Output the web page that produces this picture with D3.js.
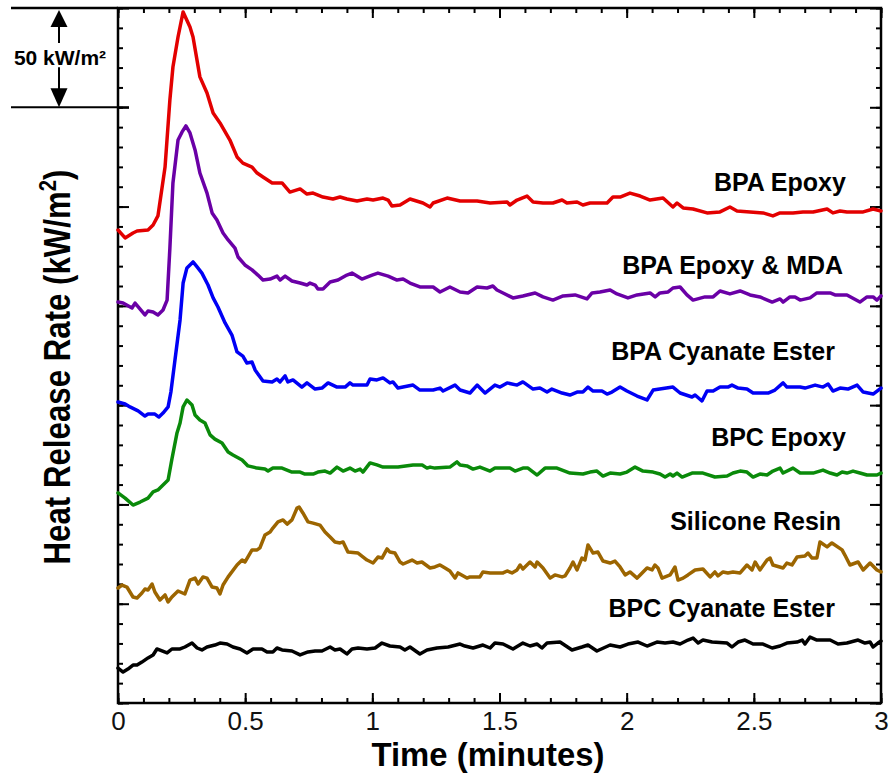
<!DOCTYPE html>
<html>
<head>
<meta charset="utf-8">
<script src="https://cdn.jsdelivr.net/npm/d3@7"></script>
<style>
  body { margin: 0; background: #fff; }
  text { font-family: "Liberation Sans", Arial, Helvetica, sans-serif; }
</style>
</head>
<body>
<script>
// series: [time (min), offset heat release rate (kW/m2)]
const seriesNames = ["BPA Epoxy", "BPA Epoxy & MDA", "BPA Cyanate Ester", "BPC Epoxy", "Silicone Resin", "BPC Cyanate Ester"];

const bpaEpoxy = [[0,238.2],[.028,234.2],[.059,236.7],[.075,237.7],[.118,238.2],[.138,240.7],[.157,245.3],[.185,269.9],[.204,303.7],[.216,320.3],[.236,335.4],[.256,348],[.283,340.4],[.295,335.4],[.322,315.3],[.35,307.2],[.374,297.1],[.401,292.1],[.44,283.5],[.468,275],[.491,271.9],[.527,269.9],[.547,266.9],[.57,264.9],[.606,261.9],[.645,261.9],[.676,257.3],[.716,258.9],[.743,256.3],[.767,256.8],[.806,254.8],[.845,253.8],[.873,254.8],[.9,253.8],[.94,252.8],[.979,253.8],[1.003,253.3],[1.042,254.3],[1.062,253.3],[1.077,250.3],[1.109,250.8],[1.148,253.8],[1.199,251.8],[1.227,249.8],[1.239,251.8],[1.294,254.3],[1.345,252.8],[1.412,252.8],[1.463,251.8],[1.53,252.3],[1.541,250.8],[1.569,253.3],[1.608,255.3],[1.632,252.3],[1.671,251.8],[1.71,251.8],[1.746,253.3],[1.765,251.8],[1.805,252.3],[1.828,250.8],[1.856,251.8],[1.923,251.8],[1.946,254.8],[1.974,254.8],[2.013,256.8],[2.053,255.3],[2.092,253.3],[2.143,254.3],[2.182,249.8],[2.198,251.8],[2.222,249.3],[2.261,248.8],[2.316,246.8],[2.367,247.3],[2.406,249.8],[2.434,247.8],[2.485,247.3],[2.536,246.8],[2.575,245.3],[2.603,246.8],[2.654,246.8],[2.693,247.3],[2.733,247.3],[2.788,248.8],[2.811,246.8],[2.839,247.8],[2.866,247.3],[2.93,247.3],[2.969,248.8],[3,247.8]];

const bpaEpoxyMda = [[0,201.9],[.02,201.4],[.055,198.9],[.067,201.4],[.106,195.4],[.118,197.4],[.138,196.9],[.157,195.4],[.177,197.9],[.193,202.9],[.204,229.1],[.216,261.9],[.236,283.5],[.252,287.6],[.267,290.6],[.283,287.1],[.303,278.5],[.322,266.9],[.35,256.8],[.37,246.8],[.389,243.2],[.413,236.7],[.433,233.2],[.46,229.1],[.472,224.6],[.499,220.6],[.527,218.1],[.55,215.5],[.57,213],[.598,213.5],[.625,215],[.637,213],[.657,215],[.684,212.5],[.716,211.5],[.743,210.5],[.755,211.5],[.775,210.5],[.786,208.5],[.806,208.5],[.834,212],[.865,213],[.9,215.5],[.92,216.5],[.959,213.5],[.999,215.5],[1.022,216.5],[1.062,215],[1.097,213],[1.121,213.5],[1.148,211.5],[1.187,209.5],[1.239,209.5],[1.266,207],[1.305,209.5],[1.345,207],[1.376,206.5],[1.412,209.5],[1.451,209],[1.474,210],[1.49,208],[1.514,206.5],[1.553,204],[1.592,205],[1.64,206.5],[1.671,204.5],[1.71,202.9],[1.75,205],[1.797,205.5],[1.844,203.5],[1.864,206.5],[1.895,207],[1.935,208],[1.962,206],[2.005,204],[2.041,205.5],[2.092,206.5],[2.112,204.5],[2.131,206.5],[2.163,207],[2.182,209],[2.21,209.5],[2.237,205.5],[2.261,202.9],[2.308,204.5],[2.34,204.5],[2.367,207.5],[2.406,206],[2.446,207.5],[2.485,205.5],[2.524,204.5],[2.572,201.9],[2.603,203.5],[2.615,201.9],[2.642,204.5],[2.662,204.5],[2.682,202.9],[2.721,204],[2.748,206.5],[2.8,206.5],[2.819,205.5],[2.866,205.5],[2.917,201.9],[2.945,204.5],[2.969,204.5],[2.984,202.9],[3,205]];

const bpaCyanate = [[0,151.6],[.028,150.6],[.047,149.1],[.079,147.1],[.106,144.5],[.118,145.5],[.145,145.5],[.161,144],[.177,146],[.197,149.1],[.208,156.6],[.224,172.7],[.244,192.9],[.256,211.5],[.271,219.1],[.295,222.1],[.311,219.6],[.33,216.5],[.354,210.5],[.374,204],[.393,199.4],[.421,191.4],[.448,185.3],[.468,176.8],[.491,174.7],[.507,171.2],[.527,171.7],[.539,167.7],[.57,162.2],[.606,161.7],[.625,163.2],[.637,161.7],[.657,164.7],[.668,161.7],[.688,162.7],[.723,159.1],[.743,161.2],[.775,158.1],[.802,158.6],[.826,161.2],[.861,159.1],[.893,159.1],[.912,161.2],[.924,160.1],[.979,160.1],[.991,163.2],[1.018,162.7],[1.042,163.7],[1.069,161.2],[1.081,161.7],[1.101,158.6],[1.16,160.1],[1.187,157.6],[1.239,157.6],[1.266,158.6],[1.278,157.1],[1.325,160.1],[1.345,157.6],[1.384,156.1],[1.412,160.1],[1.443,156.1],[1.482,160.1],[1.502,159.1],[1.53,161.2],[1.569,160.1],[1.592,161.7],[1.632,158.1],[1.659,158.6],[1.687,156.6],[1.706,158.1],[1.746,156.1],[1.777,155.1],[1.805,156.6],[1.828,156.6],[1.848,159.1],[1.868,157.1],[1.903,157.1],[1.923,155.6],[1.942,156.6],[1.974,159.1],[2.001,157.1],[2.041,154.6],[2.08,152.6],[2.104,157.6],[2.182,159.1],[2.21,156.1],[2.257,154.1],[2.269,155.1],[2.296,152.1],[2.316,157.1],[2.34,157.1],[2.367,159.1],[2.398,159.1],[2.414,160.1],[2.438,158.6],[2.473,158.1],[2.497,156.1],[2.556,156.1],[2.583,157.6],[2.615,161.2],[2.63,159.1],[2.682,159.1],[2.701,158.6],[2.741,160.1],[2.772,159.1],[2.792,160.6],[2.811,157.1],[2.839,158.6],[2.87,158.1],[2.906,160.1],[2.93,156.6],[2.969,155.6],[3,158.6]];

const bpcEpoxy = [[0,105.8],[.028,103.2],[.059,99.7],[.087,101.2],[.118,103.2],[.138,106.3],[.157,107.3],[.177,109.8],[.197,112.3],[.212,122.9],[.232,136],[.244,141],[.256,149.1],[.271,152.6],[.291,150.1],[.303,145],[.322,142.5],[.342,141],[.362,135],[.381,132.9],[.409,130.9],[.433,126.4],[.452,124.9],[.488,122.4],[.511,119.4],[.547,118.3],[.578,117.8],[.59,116.8],[.609,118.3],[.645,118.3],[.684,116.3],[.716,116.3],[.735,115.3],[.767,115.3],[.786,116.3],[.814,116.8],[.834,115.8],[.861,118.8],[.885,116.8],[.912,118.3],[.932,116.8],[.952,117.8],[.963,116.3],[.991,120.9],[1.018,119.9],[1.042,118.8],[1.101,118.8],[1.16,119.9],[1.196,119.9],[1.215,118.3],[1.227,118.8],[1.246,118.3],[1.305,118.8],[1.333,121.4],[1.345,119.9],[1.372,119.4],[1.396,117.8],[1.423,118.8],[1.463,116.8],[1.482,118.3],[1.541,118.3],[1.561,116.8],[1.592,118.3],[1.612,118.3],[1.648,114.8],[1.679,118.3],[1.726,118.3],[1.777,115.8],[1.828,115.3],[1.856,116.3],[1.883,116.8],[1.907,114.3],[1.935,115.8],[1.974,115.3],[2.001,116.3],[2.033,118.8],[2.064,116.8],[2.104,116.3],[2.131,115.3],[2.151,113.8],[2.171,115.3],[2.182,114.3],[2.198,115.8],[2.218,113.8],[2.257,115.8],[2.3,115.8],[2.347,113.8],[2.395,114.3],[2.418,115.8],[2.446,116.8],[2.473,116.3],[2.497,113.8],[2.524,115.3],[2.552,114.8],[2.575,116.8],[2.603,118.3],[2.615,115.8],[2.654,118.3],[2.682,115.8],[2.733,115.8],[2.772,117.3],[2.8,115.8],[2.827,114.8],[2.847,116.3],[2.866,115.8],[2.89,116.8],[2.917,115.8],[2.945,114.8],[2.984,114.8],[3,115.8]];

const siliconeResin = [[0,57.9],[.016,59.4],[.035,58.4],[.059,53.4],[.075,52.9],[.094,55.4],[.106,57.4],[.118,56.9],[.134,59.9],[.145,55.9],[.165,51.9],[.185,54.4],[.197,50.9],[.212,53.4],[.236,56.4],[.263,54.9],[.283,61.9],[.303,62.9],[.315,59.9],[.334,63.5],[.35,62.9],[.37,58.4],[.389,57.9],[.401,54.9],[.413,59.4],[.433,63.5],[.468,69.5],[.488,72],[.499,71],[.527,77.1],[.547,77.1],[.558,78.1],[.578,84.6],[.598,86.1],[.609,88.1],[.629,91.2],[.649,92.2],[.665,90.1],[.684,92.2],[.704,98.2],[.712,98.7],[.727,95.7],[.747,91.2],[.767,90.6],[.794,89.6],[.814,86.1],[.834,83.6],[.853,81.1],[.873,80.6],[.885,81.1],[.904,76],[.944,75.5],[.979,72],[1.003,70.5],[1.022,73.5],[1.038,73],[1.058,77.6],[1.069,76],[1.089,75.5],[1.109,71],[1.121,70],[1.156,72],[1.176,70.5],[1.195,71],[1.227,68],[1.246,68.5],[1.266,69.5],[1.286,68],[1.305,66.5],[1.325,62.9],[1.337,65.5],[1.372,62.9],[1.384,63.5],[1.423,63.5],[1.435,66],[1.463,65.5],[1.514,65.5],[1.53,66.5],[1.549,65.5],[1.569,67],[1.581,69.5],[1.592,67.5],[1.62,71],[1.64,68.5],[1.648,71],[1.671,68],[1.699,62.9],[1.718,64.5],[1.746,63.5],[1.758,64],[1.777,68],[1.789,71],[1.805,67],[1.824,73],[1.836,72],[1.848,79.6],[1.868,75.5],[1.887,76],[1.907,71.5],[1.935,70.5],[1.954,71.5],[1.974,68.5],[1.994,64.5],[2.013,66],[2.041,62.9],[2.053,64.5],[2.08,68],[2.1,67],[2.111,69.5],[2.123,68],[2.139,62.9],[2.171,64.5],[2.19,68.5],[2.202,61.9],[2.222,62.9],[2.241,64.5],[2.269,67],[2.3,67.5],[2.328,63.5],[2.347,66],[2.359,64],[2.379,66],[2.398,65.5],[2.418,66],[2.446,65.5],[2.473,69.5],[2.493,67],[2.505,71],[2.524,67],[2.552,72],[2.564,73],[2.575,69.5],[2.615,68],[2.63,70.5],[2.65,69.5],[2.67,73.5],[2.701,74],[2.713,75.5],[2.729,73],[2.748,73],[2.76,81.1],[2.788,78.6],[2.807,80.6],[2.847,77.1],[2.858,74.5],[2.878,69.5],[2.91,71],[2.93,67],[2.957,70.5],[2.984,67],[3,66]];

const bpcCyanate = [[0,17.6],[.02,15.6],[.039,17.1],[.059,19.1],[.075,19.1],[.094,20.6],[.118,22.7],[.138,24.2],[.153,27.2],[.173,26.2],[.193,25.2],[.212,27.2],[.244,27.2],[.263,28.2],[.291,30.2],[.311,27.7],[.33,26.7],[.35,28.2],[.381,29.2],[.401,30.2],[.429,29.7],[.452,28.2],[.48,27.2],[.507,25.2],[.531,27.2],[.566,27.2],[.586,25.7],[.609,25.7],[.625,27.7],[.645,26.7],[.684,26.2],[.716,24.2],[.747,25.7],[.775,26.2],[.802,26.2],[.834,28.2],[.853,26.7],[.873,27.2],[.9,24.7],[.92,27.2],[.944,27.7],[.979,27.2],[1.011,27.7],[1.038,30.2],[1.069,28.7],[1.109,28.2],[1.128,26.7],[1.148,28.2],[1.187,24.7],[1.215,26.7],[1.254,27.7],[1.298,28.2],[1.345,29.7],[1.364,28.7],[1.396,27.7],[1.435,29.2],[1.463,27.7],[1.482,30.2],[1.514,29.7],[1.553,27.2],[1.592,30.2],[1.62,28.7],[1.648,29.7],[1.667,27.7],[1.687,30.2],[1.738,30.7],[1.785,26.7],[1.824,28.2],[1.848,29.2],[1.883,26.2],[1.935,29.2],[1.974,28.2],[2.005,29.7],[2.045,30.7],[2.08,28.7],[2.119,30.7],[2.151,30.2],[2.182,30.7],[2.21,29.7],[2.241,31.7],[2.261,32.7],[2.281,30.2],[2.3,31.7],[2.336,30.7],[2.395,30.2],[2.414,28.2],[2.438,30.7],[2.465,31.7],[2.497,29.7],[2.536,29.7],[2.572,27.7],[2.603,28.7],[2.63,30.2],[2.67,30.7],[2.69,31.7],[2.701,29.7],[2.721,33.2],[2.748,31.7],[2.8,31.7],[2.831,29.7],[2.866,30.2],[2.91,31.7],[2.937,30.2],[2.957,30.7],[2.969,28.2],[2.988,30.2],[3,31.2]];

const seriesData = [bpaEpoxy, bpaEpoxyMda, bpaCyanate, bpcEpoxy, siliconeResin, bpcCyanate];
const seriesColors = ["#e30000", "#6a00a6", "#0000f5", "#0a8a0a", "#9c6500", "#000000"];
// where each name sits (right end of text, baseline), in data units
const labelAt = [[2.862,257.8],[2.851,216.0],[2.819,172.7],[2.862,129.4],[2.843,87.1],[2.819,43.3]];

const xMajor = [0, 0.5, 1, 1.5, 2, 2.5, 3];
const xMinor = d3.range(31).map(i => i / 10);
const yMajor = d3.range(8).map(i => i * 50);
const yMinor = d3.range(36).map(i => i * 10);
const scaleBar = [300, 350];   // 50 kW/m2 reference

const width = 894, height = 776;
const svg = d3.select("body").append("svg").attr("width", width).attr("height", height);

const x = d3.scaleLinear().domain([0, 3]).range([118, 881]);
const y = d3.scaleLinear().domain([0, 350]).range([703, 8]);

// axes, ticks pointing into the plot
function addAxis(axis, tx, ty, cls) {
  const g = svg.append("g").attr("class", cls).attr("transform", `translate(${tx},${ty})`).call(axis);
  g.select(".domain").remove();
  g.selectAll(".tick line").attr("stroke", "#000").attr("stroke-width", 2);
  return g;
}
addAxis(d3.axisBottom(x).tickValues(xMinor).tickSize(-5).tickFormat(""), 0, 703, "xminor");
addAxis(d3.axisTop(x).tickValues(xMinor).tickSize(-5).tickFormat(""), 0, 8, "xminor");
addAxis(d3.axisTop(x).tickValues(xMajor).tickSize(-10).tickFormat(""), 0, 8, "xmajor");
const xAx = addAxis(d3.axisBottom(x).tickValues(xMajor).tickSize(-10).tickPadding(9).tickFormat(d3.format("~g")), 0, 703, "xaxis");
xAx.selectAll("text").attr("font-size", 26).attr("fill", "#111");

addAxis(d3.axisLeft(y).tickValues(yMinor).tickSize(-5).tickFormat(""), 118, 0, "yminor");
addAxis(d3.axisLeft(y).tickValues(yMajor).tickSize(-11).tickFormat(""), 118, 0, "ymajor");
addAxis(d3.axisRight(y).tickValues(yMinor).tickSize(-5).tickFormat(""), 881, 0, "yminor");
addAxis(d3.axisRight(y).tickValues(yMajor).tickSize(-11).tickFormat(""), 881, 0, "ymajor");

// frame
svg.append("rect")
  .attr("x", x(0)).attr("y", y(350))
  .attr("width", x(3) - x(0)).attr("height", y(0) - y(350))
  .attr("fill", "none").attr("stroke", "#000").attr("stroke-width", 2.5);

// curves
const line = d3.line().x(d => x(d[0])).y(d => y(d[1]));
svg.append("g").selectAll("path")
  .data(seriesData)
  .join("path")
  .attr("d", line)
  .attr("fill", "none")
  .attr("stroke", (d, i) => seriesColors[i])
  .attr("stroke-width", 3.5)
  .attr("stroke-linejoin", "round")
  .attr("stroke-linecap", "round");

// series names
svg.append("g").selectAll("text")
  .data(seriesNames)
  .join("text")
  .attr("x", (d, i) => x(labelAt[i][0]))
  .attr("y", (d, i) => y(labelAt[i][1]))
  .attr("text-anchor", "end")
  .attr("font-size", 25)
  .attr("font-weight", "bold")
  .text(d => d);

// 50 kW/m2 scale bar
const bar = svg.append("g");
const xBar = 59;
bar.append("line").attr("x1", 11).attr("x2", x(0)).attr("y1", y(scaleBar[1])).attr("y2", y(scaleBar[1]))
  .attr("stroke", "#000").attr("stroke-width", 2.5);
bar.append("line").attr("x1", 11).attr("x2", x(0) + 11).attr("y1", y(scaleBar[0])).attr("y2", y(scaleBar[0]))
  .attr("stroke", "#000").attr("stroke-width", 2);
const yTop = y(scaleBar[1]), yBot = y(scaleBar[0]);
bar.append("line").attr("x1", xBar).attr("x2", xBar).attr("y1", yTop + 15).attr("y2", yTop + 35)
  .attr("stroke", "#000").attr("stroke-width", 2);
bar.append("line").attr("x1", xBar).attr("x2", xBar).attr("y1", yBot - 40).attr("y2", yBot - 15)
  .attr("stroke", "#000").attr("stroke-width", 2);
bar.append("path").attr("d", `M${xBar},${yTop + 2}L${xBar - 8.5},${yTop + 19}L${xBar + 8.5},${yTop + 19}Z`);
bar.append("path").attr("d", `M${xBar},${yBot}L${xBar - 8.5},${yBot - 19}L${xBar + 8.5},${yBot - 19}Z`);
bar.append("text").attr("x", 60).attr("y", 65).attr("text-anchor", "middle")
  .attr("font-size", 21).attr("font-weight", "bold").text("50 kW/m²");

// axis titles
svg.append("text")
  .attr("x", 488).attr("y", 766)
  .attr("text-anchor", "middle")
  .attr("font-size", 34).attr("font-weight", "bold")
  .attr("textLength", 233).attr("lengthAdjust", "spacingAndGlyphs")
  .text("Time (minutes)");

const yTitle = svg.append("text")
  .attr("transform", "translate(70,367) rotate(-90)")
  .attr("text-anchor", "middle")
  .attr("font-size", 37).attr("font-weight", "bold")
  .attr("textLength", 395).attr("lengthAdjust", "spacingAndGlyphs");
yTitle.append("tspan").text("Heat Release Rate (kW/m");
yTitle.append("tspan").attr("dy", -14).attr("font-size", 24).text("2");
yTitle.append("tspan").attr("dy", 14).text(")");
</script>
</body>
</html>
